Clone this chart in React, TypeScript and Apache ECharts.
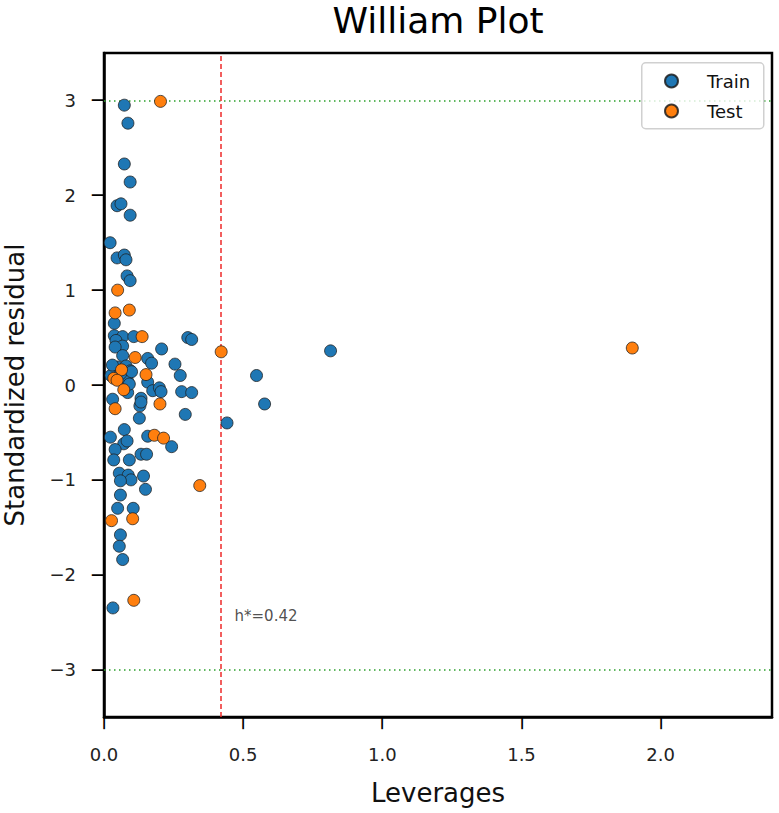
import React, { useEffect, useRef } from "react";
import * as echarts from "echarts";

const trainX = [
  0.073, 0.086, 0.073, 0.094, 0.047, 0.061, 0.094, 0.022, 0.047, 0.073, 0.079, 0.083, 0.094,
  0.037, 0.037, 0.067, 0.107, 0.043, 0.067, 0.040, 0.301, 0.315, 0.207, 0.067, 0.157, 0.171,
  0.255, 0.274, 0.049, 0.079, 0.095, 0.025, 0.085, 0.157, 0.175, 0.199, 0.205, 0.085, 0.279,
  0.315, 0.031, 0.133, 0.129, 0.292, 0.127, 0.073, 0.442, 0.548, 0.577, 0.814, 0.023, 0.157,
  0.243, 0.071, 0.083, 0.040, 0.035, 0.091, 0.133, 0.153, 0.055, 0.087, 0.097, 0.059, 0.142,
  0.149, 0.059, 0.049, 0.105, 0.059, 0.055, 0.067, 0.032, 0.030, 0.091, 0.060, 0.133, 0.099,
];
const trainY = [
  2.95, 2.76, 2.33, 2.14, 1.89, 1.91, 1.79, 1.5, 1.34, 1.37, 1.32, 1.15, 1.1,
  0.65, 0.52, 0.51, 0.51, 0.47, 0.41, 0.4, 0.5, 0.48, 0.38, 0.31, 0.28, 0.23,
  0.22, 0.1, 0.19, 0.2, 0.15, 0.1, 0.04, 0.03, -0.06, -0.03, -0.07, -0.08, -0.07,
  -0.08, -0.15, -0.14, -0.22, -0.31, -0.35, -0.47, -0.4, 0.1, -0.2, 0.36, -0.55, -0.54,
  -0.65, -0.62, -0.59, -0.68, -0.79, -0.79, -0.73, -0.73, -0.93, -0.95, -1.0, -1.01, -0.96,
  -1.1, -1.16, -1.3, -1.3, -1.58, -1.7, -1.84, -2.35, 0.21, 0.01, 0.12, -0.18, 0.14,
];
const testX = [
  0.203, 0.049, 0.04, 0.091, 0.137, 0.421, 0.112, 0.063, 0.151, 0.035, 0.047, 0.071, 0.04,
  0.201, 0.181, 0.214, 0.344, 0.027, 0.103, 0.107, 1.898,
];
const testY = [
  2.99, 1.0, 0.76, 0.79, 0.51, 0.35, 0.29, 0.16, 0.11, 0.07, 0.05, -0.05, -0.25,
  -0.2, -0.53, -0.56, -1.06, -1.43, -1.41, -2.27, 0.39,
];
const xTicks = [0, 0.5, 1.0, 1.5, 2.0];
const yTicks = [-3, -2, -1, 0, 1, 2, 3];
const xMin = 0;
const xMax = 2.4;
const yMin = -3.5;
const yMax = 3.5;
const hStar = 0.42;
const residualLimit = 3;
const hLabelPos = [0.469, -2.43];

const FONT = "DejaVu Sans";

export default function App() {
  const ref = useRef<HTMLDivElement>(null);
  useEffect(() => {
    document.body.style.margin = "0";
    const chart = echarts.init(ref.current!, null, { renderer: "svg" });
    const train = trainX.map((x, i) => [x, trainY[i]]);
    const test = testX.map((x, i) => [x, testY[i]]);
    const pointStyle = (color: string) => ({
      color,
      borderColor: "rgba(30,30,30,0.85)",
      borderWidth: 0.9,
      opacity: 1,
    });
    const axisLine = { show: true, onZero: false, lineStyle: { color: "#000", width: 2.5 } };
    // Companion axes that draw the outward tick marks as box-drawing glyphs
    const tickGlyph = {
      fontFamily: FONT,
      fontSize: 20,
      color: "#000",
      margin: 0,
      formatter: () => "\u2500",
    };
    chart.setOption({
      animation: false,
      title: {
        text: "William Plot",
        left: 438,
        textAlign: "center",
        top: 2,
        padding: 0,
        textStyle: { fontFamily: FONT, fontSize: 36, fontWeight: "normal", color: "#000" },
      },
      grid: {
        left: 104,
        right: 7,
        top: 53,
        bottom: 96,
        show: true,
        borderColor: "#000",
        borderWidth: 2.5,
        backgroundColor: "transparent",
        outerBoundsMode: "none",
        containLabel: false,
      },
      legend: {
        data: ["Train", "Test"],
        orient: "vertical",
        left: 664,
        top: 71,
        padding: 0,
        itemWidth: 13,
        itemHeight: 13,
        itemGap: 10,
        icon: "circle",
        z: 60,
        textStyle: {
          fontFamily: FONT,
          fontSize: 18,
          color: "#111",
          lineHeight: 20,
          padding: [0, 0, 0, 24],
        },
      },
      graphic: [
        {
          type: "rect",
          z: 50,
          left: 641,
          top: 62,
          shape: { width: 122, height: 66, r: 4 },
          style: { fill: "rgba(255,255,255,0.8)", stroke: "#d0d0d0", lineWidth: 1.5 },
        },
      ],
      xAxis: [
        {
          type: "value",
          min: xMin,
          max: xMax,
          name: "Leverages",
          nameLocation: "middle",
          nameGap: 63,
          nameTextStyle: { fontFamily: FONT, fontSize: 26, color: "#111" },
          axisLine,
          axisTick: { show: false },
          axisLabel: {
            margin: 28,
            fontFamily: FONT,
            fontSize: 18,
            color: "#222",
            customValues: xTicks,
            formatter: (v: number) => v.toFixed(1),
          },
          splitLine: { show: false },
        },
        {
          type: "value",
          position: "bottom",
          offset: 0,
          min: xMin,
          max: xMax,
          axisLine: { show: false },
          axisTick: { show: false },
          splitLine: { show: false },
          axisLabel: { ...tickGlyph, rotate: 90, customValues: xTicks },
        },
      ],
      yAxis: [
        {
          type: "value",
          min: yMin,
          max: yMax,
          name: "Standardized residual",
          nameLocation: "middle",
          nameGap: 76,
          nameTextStyle: { fontFamily: FONT, fontSize: 26, color: "#111" },
          axisLine,
          axisTick: { show: false },
          axisLabel: {
            margin: 28,
            fontFamily: FONT,
            fontSize: 18,
            color: "#222",
            customValues: yTicks,
            formatter: (v: number) => (v < 0 ? "\u2212" + Math.abs(v) : String(v)),
          },
          splitLine: { show: false },
        },
        {
          type: "value",
          position: "left",
          offset: 0,
          min: yMin,
          max: yMax,
          axisLine: { show: false },
          axisTick: { show: false },
          splitLine: { show: false },
          axisLabel: { ...tickGlyph, customValues: yTicks },
        },
      ],
      series: [
        {
          name: "lines",
          type: "line",
          data: [],
          z: 1,
          silent: true,
          markLine: {
            silent: true,
            symbol: "none",
            z: 1,
            label: { show: false },
            data: [
              { yAxis: residualLimit, lineStyle: { color: "#2ca02c", type: [1.5, 3.5], width: 1.5 } },
              { yAxis: -residualLimit, lineStyle: { color: "#2ca02c", type: [1.5, 3.5], width: 1.5 } },
              { xAxis: hStar, lineStyle: { color: "#ee2a2a", type: [5, 3], width: 1.5 } },
            ],
          },
        },
        {
          name: "Train",
          type: "scatter",
          data: train,
          symbolSize: 12,
          z: 3,
          itemStyle: pointStyle("#1f77b4"),
        },
        {
          name: "Test",
          type: "scatter",
          data: test,
          symbolSize: 12,
          z: 4,
          itemStyle: pointStyle("#ff7f0e"),
        },
        {
          name: "hlabel",
          type: "scatter",
          data: [hLabelPos],
          symbolSize: 0,
          silent: true,
          z: 5,
          itemStyle: { color: "transparent" },
          label: {
            show: true,
            position: "right",
            distance: 0,
            formatter: "h*=0.42",
            fontFamily: FONT,
            fontSize: 15,
            color: "#222",
          },
        },
      ],
    });

    return () => chart.dispose();
  }, []);
  return <div ref={ref} style={{ width: 779, height: 813 }} />;
}
